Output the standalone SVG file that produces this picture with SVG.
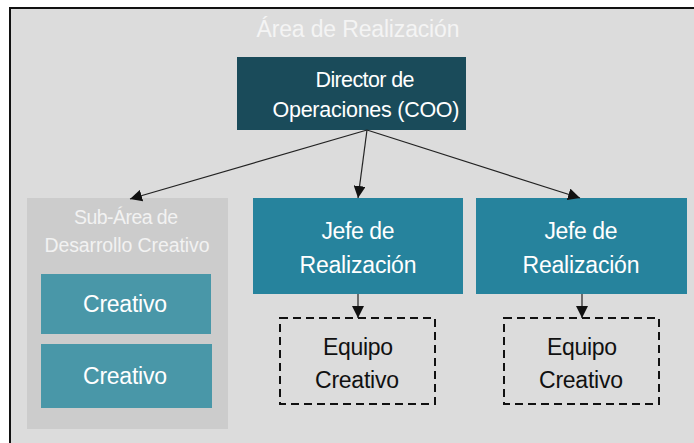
<svg xmlns="http://www.w3.org/2000/svg" width="694" height="443" viewBox="0 0 694 443">
<defs>
<style>
text{font-family:"Liberation Sans Narrow","Arial Narrow","Liberation Sans",Arial,sans-serif;text-anchor:middle}
.w{fill:#ffffff}
.k{fill:#111111}
.conn line{stroke:#222222;stroke-width:1.2;fill:none}
.dash{fill:none;stroke:#111111;stroke-width:2;stroke-dasharray:8 5}
</style>
<marker id="ah" viewBox="0 0 12 12" refX="12" refY="6" markerWidth="12" markerHeight="12" markerUnits="userSpaceOnUse" orient="auto">
<path d="M0,0 L12,6 L0,12 z" fill="#111111"/>
</marker>
</defs>
<rect x="0" y="0" width="694" height="443" fill="#ffffff"/>
<g id="area">
<rect x="10" y="8" width="700" height="450" fill="#dcdcdc" stroke="#111111" stroke-width="2"/>
<text x="358" y="37" font-size="23" fill="#f4f4f4" textLength="203" lengthAdjust="spacing">Área de Realización</text>
</g>
<g id="director">
<rect x="237" y="57" width="229" height="73" fill="#1a4b5a"/>
<text class="w" x="365" y="87" font-size="21.5" textLength="99" lengthAdjust="spacing">Director de</text>
<text class="w" x="366" y="117" font-size="21.5" textLength="187" lengthAdjust="spacing">Operaciones (COO)</text>
</g>
<g id="subarea">
<rect x="27" y="198" width="201" height="231" fill="#cccccc"/>
<text x="126" y="224" font-size="19.5" fill="#f2f2f2" textLength="104" lengthAdjust="spacing">Sub-Área de</text>
<text x="127" y="252" font-size="19.5" fill="#f2f2f2" textLength="165" lengthAdjust="spacing">Desarrollo Creativo</text>
</g>
<g id="creativo1">
<rect x="41" y="274" width="170" height="60" fill="#4997a8"/>
<text class="w" x="125" y="312" font-size="23" textLength="84" lengthAdjust="spacing">Creativo</text>
</g>
<g id="creativo2">
<rect x="41" y="344" width="171" height="64" fill="#4997a8"/>
<text class="w" x="125" y="384" font-size="23" textLength="84" lengthAdjust="spacing">Creativo</text>
</g>
<g id="jefe1">
<rect x="253" y="198" width="210" height="96" fill="#26839d"/>
<text class="w" x="358" y="239" font-size="23" textLength="73" lengthAdjust="spacing">Jefe de</text>
<text class="w" x="358" y="273" font-size="23" textLength="117" lengthAdjust="spacing">Realización</text>
</g>
<g id="jefe2">
<rect x="476" y="198" width="211" height="96" fill="#26839d"/>
<text class="w" x="581" y="239" font-size="23" textLength="73" lengthAdjust="spacing">Jefe de</text>
<text class="w" x="581" y="273" font-size="23" textLength="117" lengthAdjust="spacing">Realización</text>
</g>
<g id="equipo1">
<rect class="dash" x="280" y="318" width="155" height="86"/>
<text class="k" x="358" y="355" font-size="23" textLength="70" lengthAdjust="spacing">Equipo</text>
<text class="k" x="357" y="388" font-size="23" textLength="84" lengthAdjust="spacing">Creativo</text>
</g>
<g id="equipo2">
<rect class="dash" x="504" y="318" width="155" height="86"/>
<text class="k" x="582" y="355" font-size="23" textLength="70" lengthAdjust="spacing">Equipo</text>
<text class="k" x="581" y="388" font-size="23" textLength="84" lengthAdjust="spacing">Creativo</text>
</g>
<g class="conn" id="connectors">
<line x1="367" y1="130" x2="130" y2="199" marker-end="url(#ah)"/>
<line x1="367" y1="130" x2="358" y2="198" marker-end="url(#ah)"/>
<line x1="367" y1="130" x2="580" y2="198" marker-end="url(#ah)"/>
<line x1="358" y1="294" x2="358" y2="318" marker-end="url(#ah)"/>
<line x1="582" y1="294" x2="582" y2="318" marker-end="url(#ah)"/>
</g>
</svg>
